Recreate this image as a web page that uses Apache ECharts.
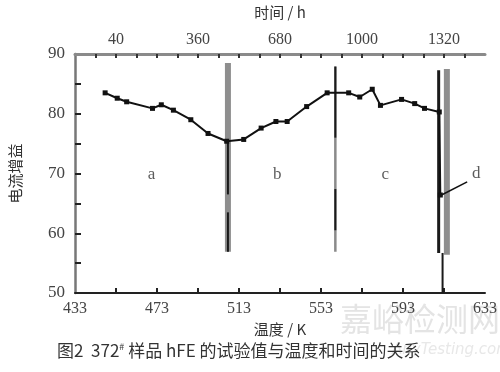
<!DOCTYPE html>
<html><head><meta charset="utf-8">
<script src="https://cdn.jsdelivr.net/npm/echarts@6/dist/echarts.min.js"></script>
<style>html,body{margin:0;padding:0;background:#fff}#c{width:500px;height:372px}</style>
</head><body><div id="c"></div>
<script>
// Temperature (K) and hFE values of the measured curve
var tempK = [447.7,453.6,458.2,470.8,475.1,481.0,489.5,497.9,507.0,515.3,523.8,531.0,536.5,546.0,556.0,566.5,571.9,578.0,582.0,592.3,598.7,603.5,610.7,611.2];
var hfe   = [83.5, 82.6, 82.0, 80.9, 81.5, 80.6, 79.0, 76.7, 75.4, 75.7, 77.6, 78.7, 78.7, 81.2, 83.5, 83.5, 82.8, 84.1, 81.4, 82.4, 81.7, 80.9, 80.3, 66.4];
// vertical markers [K, top, bottom]
var grayBands = [[507.6, 88.5, 56.9], [614.4, 87.5, 56.4]];
var darkLines = [[507.6, 75.4, 66.5], [507.6, 63.5, 56.9], [560.0, 87.9, 76.0], [560.0, 67.4, 60.5], [610.4, 87.3, 56.7], [612.3, 56.7, 50.0]];
var grayThin  = [[560.0, 87.9, 56.9]];
// pointer for label d
var pointerK = [611.8, 624.3];
var pointerV = [66.4, 68.6];
// region labels
var regionNames = ['a','b','c','d'];
var regionK = [470.3, 531.7, 584.3, 628.7];
var regionV = [69.8, 69.8, 69.8, 70.0];
// axis ticks / labels
var bottomLabels = [433,473,513,553,593,633];
var bottomTicks = [453,473,493,513,533,553,573,593,613];
var topLabels = [40,360,680,1000,1320];
var topTicks = [-40,40,120,200,280,360,440,520,600,680,760,840,920,1000,1080,1160,1240,1320,1400];
var leftTicks = [55,60,65,70,75,80,85];

var series = [];
grayBands.forEach(function(b){
  series.push({type:'line', xAxisIndex:0, data:[[b[0],b[1]],[b[0],b[2]]], symbol:'none', silent:true,
    lineStyle:{color:'#8e8e8e', width:6}, z:1});
});
grayThin.forEach(function(b){
  series.push({type:'line', xAxisIndex:0, data:[[b[0],b[1]],[b[0],b[2]]], symbol:'none', silent:true,
    lineStyle:{color:'#8a8a8a', width:2.5}, z:2});
});
darkLines.forEach(function(b){
  series.push({type:'line', xAxisIndex:0, data:[[b[0],b[1]],[b[0],b[2]]], symbol:'none', silent:true,
    lineStyle:{color:'#1a1a1a', width: b[0]===610.4 ? 3 : 2}, z:3});
});
series.push({type:'line', xAxisIndex:0, data: tempK.map(function(k,i){return [k,hfe[i]];}),
  symbol:'rect', symbolSize:5, itemStyle:{color:'#111'}, lineStyle:{color:'#111', width:2}, z:5});
series.push({type:'line', xAxisIndex:0, data: pointerK.map(function(k,i){return [k,pointerV[i]];}),
  symbol:'none', lineStyle:{color:'#111', width:1.5}, z:5});
series.push({type:'scatter', xAxisIndex:0, data: regionK.map(function(k,i){return {value:[k,regionV[i]], name:regionNames[i]};}),
  symbolSize:0, label:{show:true, position:'inside', formatter:'{b}', fontFamily:'Liberation Serif', fontSize:17, color:'#333'}, z:6});

var chart = echarts.init(document.getElementById('c'));
chart.setOption({
  animation:false,
  grid:{left:67, right:15, top:54, bottom:79},
  xAxis:[{
    type:'value', position:'bottom', min:433, max:633,
    name:'温度 / K', nameLocation:'middle', nameGap:29,
    nameTextStyle:{fontFamily:'Noto Sans CJK SC', fontSize:15, color:'#333'},
    axisLine:{onZero:false, lineStyle:{color:'#222', width:2}},
    axisTick:{inside:true, length:5, customValues:bottomTicks, lineStyle:{color:'#222', width:2}},
    axisLabel:{customValues:bottomLabels, fontFamily:'Liberation Serif', fontSize:16, color:'#444', margin:8},
    splitLine:{show:false}
  },{
    type:'value', position:'top', min:-120, max:1480,
    name:'时间 / h', nameLocation:'middle', nameGap:34,
    nameTextStyle:{fontFamily:'Noto Sans CJK SC', fontSize:15, color:'#333'},
    axisLine:{onZero:false, lineStyle:{color:'#8a8a8a', width:3}},
    axisTick:{inside:true, length:4, customValues:topTicks, lineStyle:{color:'#333', width:2}},
    axisLabel:{customValues:topLabels, formatter:function(v){return String(v);}, fontFamily:'Liberation Serif', fontSize:16, color:'#444', margin:6},
    splitLine:{show:false}
  }],
  yAxis:{
    type:'value', min:50, max:90, interval:10,
    name:'电流增益', nameLocation:'middle', nameGap:52,
    nameTextStyle:{fontFamily:'Noto Sans CJK SC', fontSize:15, color:'#333'},
    axisLine:{show:true, onZero:false, lineStyle:{color:'#777', width:2.5}},
    axisTick:{inside:true, length:6, customValues:leftTicks, lineStyle:{color:'#222', width:2}},
    axisLabel:{fontFamily:'Liberation Serif', fontSize:17, color:'#444', margin:10},
    splitLine:{show:false}
  },
  graphic:[
    {type:'text', left:340, top:303, style:{text:'嘉峪检测网', font:'32px "Noto Sans CJK SC"', fill:'#e4e4e4'}, z:0},
    {type:'text', left:392, top:343, style:{text:'AnyTesting.com', font:'italic 15px "DejaVu Sans"', fill:'#e8e8e8'}, z:0},
    {type:'text', left:57, top:342, style:{
      rich:{n:{fontFamily:'Noto Sans CJK SC', fontSize:17, fill:'#333'}, s:{fontFamily:'Noto Sans CJK SC', fontSize:9, fill:'#333', verticalAlign:'top', padding:[0,0,8,0]}},
      text:'{n|图2  372}{s|#}{n| 样品 hFE 的试验值与温度和时间的关系}'}}
  ],
  series:series
});
</script></body></html>
